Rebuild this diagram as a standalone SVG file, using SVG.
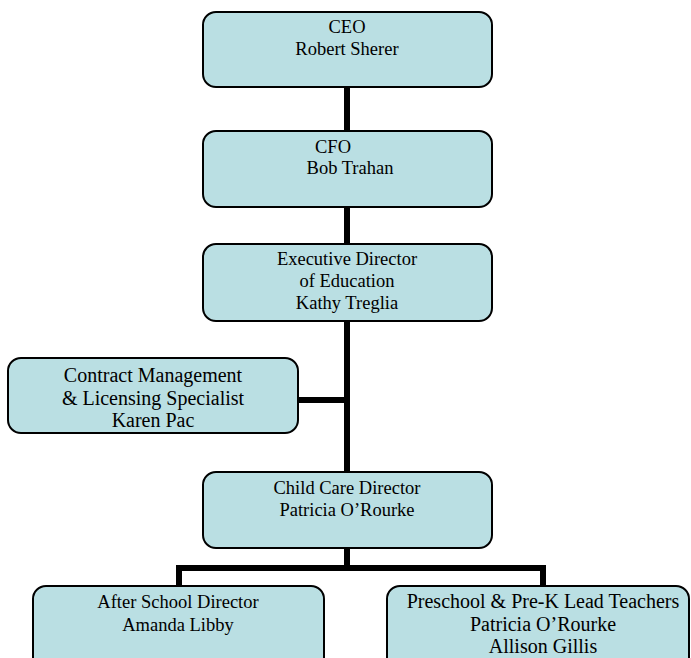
<svg xmlns="http://www.w3.org/2000/svg" width="691" height="658" viewBox="0 0 691 658">
<style>
.box{fill:#BADFE3;stroke:#000;stroke-width:2}
.t{font-family:"Liberation Serif","Times New Roman",serif;font-size:18.5px;fill:#000;text-anchor:middle}
.big{font-size:20px}
.c{fill:none;stroke:#000;stroke-width:6}
</style>
<rect width="691" height="658" fill="#fff"/>
<g id="connectors">
<path class="c" d="M347 87V472"/>
<path class="c" d="M298 400H347"/>
<path class="c" d="M347 548V568M179 586V568H543V586"/>
</g>
<g id="ceo">
<rect class="box" x="203" y="12" width="289" height="75" rx="13"/>
<text class="t" x="347" y="33">CEO</text>
<text class="t" x="347" y="55">Robert Sherer</text>
</g>
<g id="cfo">
<rect class="box" x="203" y="131" width="289" height="76" rx="13"/>
<text class="t" x="333" y="153">CFO</text>
<text class="t" x="350" y="174">Bob Trahan</text>
</g>
<g id="exec">
<rect class="box" x="203" y="244" width="289" height="77" rx="13"/>
<text class="t" x="347" y="265">Executive Director</text>
<text class="t" x="347" y="287">of Education</text>
<text class="t" x="347" y="309">Kathy Treglia</text>
</g>
<g id="contract">
<rect class="box" x="8" y="358" width="290" height="75" rx="13"/>
<text class="t big" x="153" y="382">Contract Management</text>
<text class="t big" x="153" y="405">&amp; Licensing Specialist</text>
<text class="t big" x="153" y="427">Karen Pac</text>
</g>
<g id="childcare">
<rect class="box" x="203" y="472" width="289" height="76" rx="13"/>
<text class="t" x="347" y="494">Child Care Director</text>
<text class="t" x="347" y="516">Patricia O’Rourke</text>
</g>
<g id="afterschool">
<rect class="box" x="33" y="586" width="291" height="85" rx="13"/>
<text class="t" x="178" y="608">After School Director</text>
<text class="t" x="178" y="631">Amanda Libby</text>
</g>
<g id="preschool">
<rect class="box" x="387" y="586" width="302" height="85" rx="13"/>
<text class="t big" x="543" y="608">Preschool &amp; Pre-K Lead Teachers</text>
<text class="t big" x="543" y="631">Patricia O’Rourke</text>
<text class="t big" x="543" y="653">Allison Gillis</text>
</g>
</svg>
